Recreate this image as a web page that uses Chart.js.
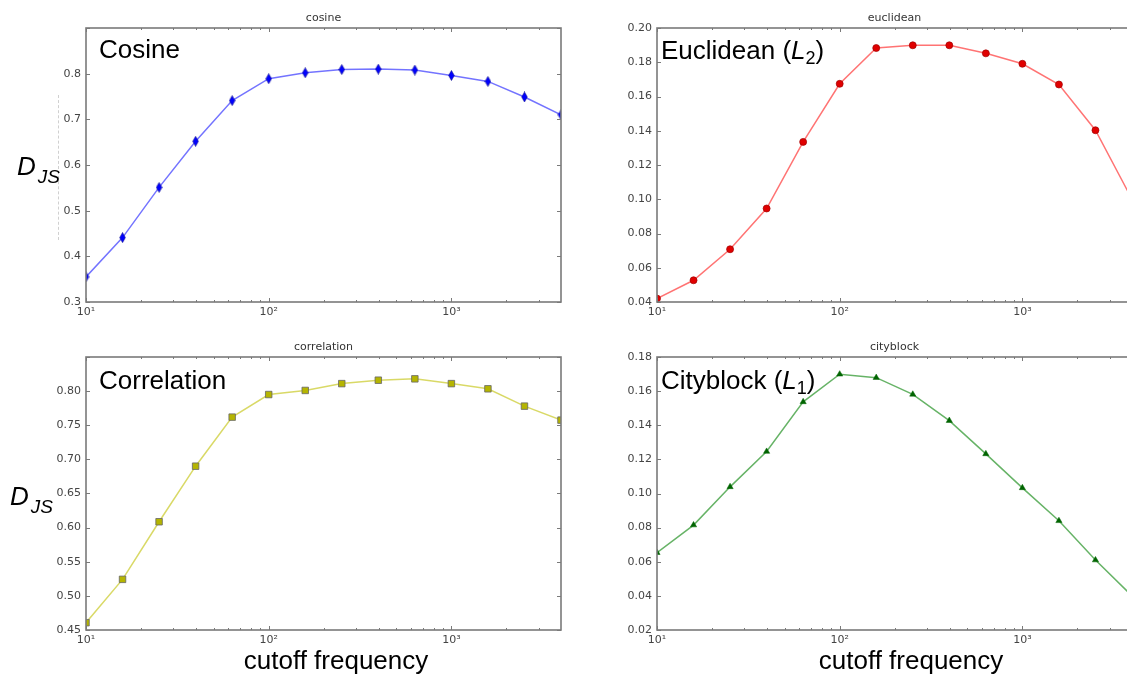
<!DOCTYPE html>
<html>
<head>
<meta charset="utf-8">
<title>Jensen-Shannon divergence vs cutoff frequency</title>
<script src="https://cdn.jsdelivr.net/npm/chart.js@4.4.1/dist/chart.umd.min.js"></script>
<style>
  html, body { margin: 0; padding: 0; background: #fff; }
  body { width: 1127px; height: 677px; overflow: hidden; position: relative; }
  .panel { position: absolute; }
  .panel canvas { display: block; }
  .big { position: absolute; font-family: "Liberation Sans", Arial, sans-serif; font-size: 26px;
         line-height: 1; color: #000; white-space: nowrap; z-index: 5; }
  .big sub { font-size: 18px; vertical-align: -0.3em; line-height: 0; }
  .djs { position: absolute; font-family: "Liberation Sans", Arial, sans-serif; color: #000;
         white-space: nowrap; line-height: 1; z-index: 5; }
  .djs .d { font-size: 26px; font-style: italic; }
  .djs .s { font-size: 19px; font-style: italic; position: relative; top: 8px; margin-left: 2px; }
  .xlabel { position: absolute; width: 260px; text-align: center; font-family: "Liberation Sans", Arial, sans-serif;
            font-size: 26px; line-height: 1; color: #000; white-space: nowrap; z-index: 5; }
  .ghost { position: absolute; left: 58px; top: 95px; height: 145px; width: 0;
           border-left: 1px dashed #d0d0d0; }
</style>
</head>
<body>

<div class="ghost"></div>

<div class="big" style="left:99px; top:36px;">Cosine</div>
<div class="big" style="left:661px; top:37px;">Euclidean (<i>L</i><sub>2</sub>)</div>
<div class="big" style="left:99px; top:367px;">Correlation</div>
<div class="big" style="left:661px; top:367px;">Cityblock (<i>L</i><sub>1</sub>)</div>

<div class="djs" style="left:17px; top:153px;"><span class="d">D</span><span class="s">JS</span></div>
<div class="djs" style="left:10px; top:483px;"><span class="d">D</span><span class="s">JS</span></div>

<div class="xlabel" style="left:206px; top:647px;">cutoff frequency</div>
<div class="xlabel" style="left:781px; top:647px;">cutoff frequency</div>

<script>
// Cutoff frequencies (five per decade, 10 .. 10^3.6)
const cutoffs = [10, 15.85, 25.12, 39.81, 63.10, 100, 158.5, 251.2, 398.1, 631.0, 1000, 1585, 2512, 3981];

// Jensen-Shannon divergence for each distance metric
const cosineD      = [0.355, 0.441, 0.551, 0.652, 0.741, 0.789, 0.802, 0.809, 0.810, 0.808, 0.796, 0.783, 0.749, 0.710];
const euclideanD   = [0.042, 0.0527, 0.0708, 0.0946, 0.1335, 0.1674, 0.1883, 0.1899, 0.1899, 0.1852, 0.1791, 0.1670, 0.1403, 0.100];
const correlationD = [0.4607, 0.5242, 0.6086, 0.690, 0.7619, 0.795, 0.801, 0.811, 0.816, 0.818, 0.811, 0.8034, 0.778, 0.7575];
const cityblockD   = [0.0653, 0.0815, 0.1039, 0.1246, 0.1537, 0.1699, 0.1679, 0.1581, 0.1427, 0.1232, 0.1033, 0.084, 0.061, 0.040];

// Log-axis decade ticks
const xTickValues = [10, 100, 1000];
const xTickLabels = ['10\u00B9', '10\u00B2', '10\u00B3'];
const xMax = Math.pow(10, 3.6);

// Thin diamond marker
const thinDiamond = (() => {
  const c = document.createElement('canvas');
  c.width = 7; c.height = 11;
  const g = c.getContext('2d');
  g.beginPath();
  g.moveTo(3.5, 0.5); g.lineTo(6.3, 5.5); g.lineTo(3.5, 10.5); g.lineTo(0.7, 5.5);
  g.closePath();
  g.fillStyle = '#0000ff'; g.fill();
  g.strokeStyle = '#00008b'; g.lineWidth = 0.6; g.stroke();
  return c;
})();

// Axes frame, inward tick marks and small subplot title
const framePlugin = {
  id: 'frame',
  afterDatasetsDraw(chart, args, opts) {
    const { ctx, chartArea: a, scales: { x, y } } = chart;
    ctx.save();
    ctx.strokeStyle = '#7a7a7a';
    ctx.lineWidth = 1;
    const seg = (x1, y1, x2, y2) => { ctx.beginPath(); ctx.moveTo(x1, y1); ctx.lineTo(x2, y2); ctx.stroke(); };
    for (let e = 1; e <= 3; e++) {
      for (let m = 1; m <= 9; m++) {
        const v = m * Math.pow(10, e);
        if (v > x.max) continue;
        const px = Math.round(x.getPixelForValue(v)) + 0.5;
        const len = m === 1 ? 4 : 2;
        seg(px, a.bottom, px, a.bottom - len);
        seg(px, a.top, px, a.top + len);
      }
    }
    y.ticks.forEach(t => {
      const py = Math.round(y.getPixelForValue(t.value)) + 0.5;
      seg(a.left, py, a.left + 4, py);
      seg(a.right, py, a.right - 4, py);
    });
    ctx.lineWidth = 1.6;
    ctx.strokeRect(a.left, a.top, a.right - a.left, a.bottom - a.top);
    ctx.font = '11px "DejaVu Sans"';
    ctx.fillStyle = '#333';
    ctx.textAlign = 'center';
    ctx.textBaseline = 'alphabetic';
    ctx.fillText(opts.text, (a.left + a.right) / 2, a.top - 7);
    ctx.restore();
  }
};

const Y_W = 60, T_H = 24, X_H = 24, R_PAD = 10, PLOT_W = 475;

const panels = [
  { title: 'cosine', values: cosineD, left: 86, top: 28, h: 274, yMin: 0.3, yMax: 0.9, step: 0.1, dec: 1, hideTop: true,
    line: 'rgba(0,0,255,0.55)', point: { pointStyle: thinDiamond } },
  { title: 'euclidean', values: euclideanD, left: 657, top: 28, h: 274, yMin: 0.04, yMax: 0.20, step: 0.02, dec: 2, hideTop: false,
    line: 'rgba(255,0,0,0.55)', point: { pointStyle: 'circle', pointRadius: 3.5, pointBackgroundColor: '#e00000', pointBorderColor: '#a00000', pointBorderWidth: 0.7 } },
  { title: 'correlation', values: correlationD, left: 86, top: 357, h: 273, yMin: 0.45, yMax: 0.85, step: 0.05, dec: 2, hideTop: true,
    line: 'rgba(191,191,0,0.6)', point: { pointStyle: 'rect', pointRadius: 4.6, pointBackgroundColor: '#b5b500', pointBorderColor: '#666', pointBorderWidth: 0.8 } },
  { title: 'cityblock', values: cityblockD, left: 657, top: 357, h: 273, yMin: 0.02, yMax: 0.18, step: 0.02, dec: 2, hideTop: false,
    line: 'rgba(0,128,0,0.6)', point: { pointStyle: 'triangle', pointRadius: 3.6, pointBackgroundColor: '#006400', pointBorderColor: '#006400', pointBorderWidth: 0.5 } }
];

const tickFont = { family: '"DejaVu Sans", sans-serif', size: 11 };
const noGrid = { display: false, drawTicks: false, tickLength: 0 };

panels.forEach(p => {
  const wrap = document.createElement('div');
  wrap.className = 'panel';
  const w = PLOT_W + Y_W + R_PAD, h = p.h + T_H + X_H;
  wrap.style.left = (p.left - Y_W) + 'px';
  wrap.style.top = (p.top - T_H) + 'px';
  wrap.style.width = w + 'px';
  wrap.style.height = h + 'px';
  const canvas = document.createElement('canvas');
  canvas.width = w; canvas.height = h;
  canvas.style.width = w + 'px'; canvas.style.height = h + 'px';
  wrap.appendChild(canvas);
  document.body.appendChild(wrap);

  new Chart(canvas, {
    type: 'line',
    data: {
      datasets: [Object.assign({
        data: cutoffs.map((c, i) => ({ x: c, y: p.values[i] })),
        borderColor: p.line,
        borderWidth: 1.5,
        tension: 0,
        fill: false,
        clip: 0,
        pointRadius: 4
      }, p.point)]
    },
    options: {
      responsive: false,
      animation: false,
      layout: { padding: { top: T_H, right: R_PAD, left: 0, bottom: 0 } },
      plugins: { legend: { display: false }, tooltip: { enabled: false }, title: { display: false },
                 frame: { text: p.title } },
      scales: {
        x: {
          type: 'logarithmic', min: 10, max: xMax,
          grid: noGrid, border: { display: false },
          afterBuildTicks: s => { s.ticks = xTickValues.map(v => ({ value: v })); },
          afterFit: s => { s.height = X_H; },
          ticks: { autoSkip: false, maxRotation: 0, padding: 4, color: '#444', font: tickFont,
                   callback: v => xTickLabels[xTickValues.indexOf(v)] ?? '' }
        },
        y: {
          type: 'linear', min: p.yMin, max: p.yMax,
          grid: noGrid, border: { display: false },
          afterFit: s => { s.width = Y_W; },
          ticks: { stepSize: p.step, padding: 5, color: '#444', font: tickFont,
                   callback: v => (p.hideTop && Math.abs(v - p.yMax) < 1e-9) ? '' : Number(v).toFixed(p.dec) }
        }
      }
    },
    plugins: [framePlugin]
  });
});
</script>
</body>
</html>
